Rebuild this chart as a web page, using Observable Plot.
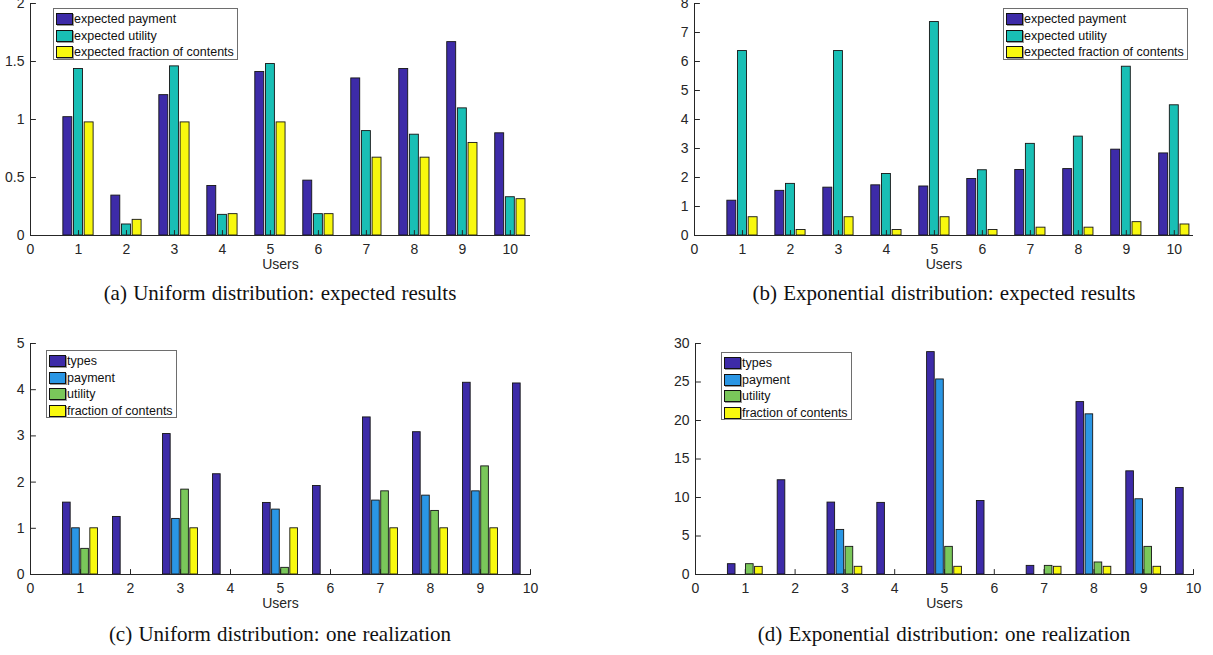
<!DOCTYPE html>
<html><head><meta charset="utf-8">
<script src="https://cdn.jsdelivr.net/npm/d3@7"></script>
<script src="https://cdn.jsdelivr.net/npm/@observablehq/plot@0.6"></script>
<style>
body{margin:0;background:#fff;}
#root{position:relative;width:1213px;height:655px;overflow:hidden;background:#fff;}
.panel{position:absolute;}
.legend{position:absolute;background:#fff;border:1px solid #6e6e6e;box-sizing:border-box;font-family:"Liberation Sans",Arial,sans-serif;font-size:12.5px;color:#111;padding-top:2px;}
.legend .row{display:flex;align-items:center;height:16.6px;white-space:nowrap;}
.legend .sw{width:17px;height:12px;box-sizing:border-box;border:1px solid #111;margin-left:2px;margin-right:1px;box-shadow:1px 1px 0 #9a9a9a;}
.caption{position:absolute;font-family:"Liberation Serif","Times New Roman",serif;font-size:21px;line-height:1;word-spacing:1px;white-space:nowrap;transform:translate(-50%,-50%);color:#111;}
</style>
</head><body>
<div id="root"></div>
<script>
const users = [1,2,3,4,5,6,7,8,9,10];
const xTicks = [0,1,2,3,4,5,6,7,8,9,10];

// (a) Uniform distribution: expected results
const aSeries = ["expected payment","expected utility","expected fraction of contents"];
const aPayment  = [1.02,0.344,1.21,0.427,1.41,0.473,1.354,1.435,1.667,0.881];
const aUtility  = [1.435,0.095,1.458,0.178,1.478,0.184,0.90,0.869,1.096,0.33];
const aFraction = [0.975,0.135,0.975,0.184,0.975,0.184,0.671,0.671,0.798,0.313];
const aYTicks = [0,0.5,1,1.5,2];

// (b) Exponential distribution: expected results
const bSeries = ["expected payment","expected utility","expected fraction of contents"];
const bPayment  = [1.20,1.54,1.65,1.73,1.69,1.95,2.26,2.29,2.96,2.83];
const bUtility  = [6.36,1.78,6.36,2.12,7.36,2.25,3.16,3.41,5.82,4.49];
const bFraction = [0.63,0.19,0.63,0.19,0.63,0.19,0.27,0.27,0.46,0.38];
const bYTicks = [0,1,2,3,4,5,6,7,8];

// (c) Uniform distribution: one realization
const cSeries = ["types","payment","utility","fraction of contents"];
const cTypes    = [1.556,1.246,3.04,2.17,1.549,1.916,3.40,3.08,4.15,4.135];
const cPayment  = [1.0,0,1.203,0,1.405,0,1.60,1.707,1.80,0];
const cUtility  = [0.555,0,1.837,0,0.144,0,1.80,1.376,2.34,0];
const cFraction = [1,0,1,0,1,0,1,1,1,0];
const cYTicks = [0,1,2,3,4,5];

// (d) Exponential distribution: one realization
const dSeries = ["types","payment","utility","fraction of contents"];
const dTypes    = [1.34,12.24,9.34,9.3,28.88,9.55,1.12,22.39,13.4,11.24];
const dPayment  = [0,0,5.79,0,25.33,0,0,20.8,9.77,0];
const dUtility  = [1.34,0,3.59,0,3.59,0,1.12,1.56,3.59,0];
const dFraction = [0.99,0,1,0,1,0,1,1,1,0];
const dYTicks = [0,5,10,15,20,25,30];

const colors3 = ["#3d2ba8","#19bfb5","#f8f80e"];
const colors4 = ["#3d2ba8","#2a96e4","#7ac75a","#f8f80e"];

const root = document.getElementById("root");
const tickShape = {draw(ctx, l) { ctx.moveTo(0, 0); ctx.lineTo(0, -l); }};
const axisColor = "#262626";
const font = "Liberation Sans, Arial, sans-serif";

function drawPanel(cfg) {
  const n = cfg.values.length;
  const step = n === 3 ? 0.222 : 0.182;
  const bw = step * 0.84;
  const marks = [];
  cfg.values.forEach((vals, i) => {
    const off = (i - (n - 1) / 2) * step;
    marks.push(Plot.rectY(users, {
      x1: u => u + off - bw / 2, x2: u => u + off + bw / 2,
      y1: 0, y2: (u, j) => vals[j],
      fill: cfg.colors[i], stroke: "#151515", strokeWidth: 0.9
    }));
  });
  marks.push(
    Plot.ruleY([0], {stroke: axisColor, strokeWidth: 1}),
    Plot.ruleX([0], {stroke: axisColor, strokeWidth: 1}),
    Plot.vector(xTicks, {x: d => d, y: 0, length: 5, rotate: 0, anchor: "start", shape: tickShape, stroke: axisColor, strokeWidth: 1}),
    Plot.vector(cfg.yTicks, {x: 0, y: d => d, length: 5, rotate: 90, anchor: "start", shape: tickShape, stroke: axisColor, strokeWidth: 1}),
    Plot.text(xTicks, {x: d => d, y: 0, dy: 14, text: d => String(d), fill: axisColor, fontSize: 14}),
    Plot.text(cfg.yTicks, {x: 0, y: d => d, dx: -6, textAnchor: "end", text: d => String(d), fill: axisColor, fontSize: 14}),
    Plot.text(["Users"], {frameAnchor: "bottom", dy: 33, text: d => d, fill: axisColor, fontSize: 14})
  );
  const svg = Plot.plot({
    width: cfg.width, height: cfg.height,
    marginLeft: cfg.ml, marginRight: cfg.mr, marginTop: cfg.mt, marginBottom: cfg.mb,
    x: {domain: [0, cfg.xmax], axis: null},
    y: {domain: [0, cfg.ymax], axis: null},
    style: {fontFamily: font, background: "transparent", overflow: "visible"},
    marks
  });
  const div = document.createElement("div");
  div.className = "panel";
  div.style.left = cfg.left + "px";
  div.style.top = cfg.top + "px";
  div.appendChild(svg);
  root.appendChild(div);

  const lg = document.createElement("div");
  lg.className = "legend";
  Object.assign(lg.style, {left: cfg.legend[0] + "px", top: cfg.legend[1] + "px", width: cfg.legend[2] + "px", height: cfg.legend[3] + "px"});
  cfg.series.forEach((s, i) => {
    const row = document.createElement("div");
    row.className = "row";
    const sw = document.createElement("span");
    sw.className = "sw";
    sw.style.background = cfg.colors[i];
    const t = document.createElement("span");
    t.textContent = s;
    row.appendChild(sw); row.appendChild(t);
    lg.appendChild(row);
  });
  root.appendChild(lg);

  const cap = document.createElement("div");
  cap.className = "caption";
  cap.style.left = cfg.capX + "px";
  cap.style.top = cfg.capY + "px";
  cap.textContent = cfg.caption;
  root.appendChild(cap);
}

drawPanel({left: 0, top: 0, width: 560, height: 280, ml: 30, mr: 30, mt: 3, mb: 45,
  xmax: 10.42, ymax: 2, yTicks: aYTicks, values: [aPayment, aUtility, aFraction], colors: colors3,
  series: aSeries, legend: [53, 8, 185, 52], capX: 280, capY: 293,
  caption: "(a) Uniform distribution: expected results"});
drawPanel({left: 660, top: 0, width: 553, height: 280, ml: 34, mr: 20, mt: 3, mb: 45,
  xmax: 10.4, ymax: 8, yTicks: bYTicks, values: [bPayment, bUtility, bFraction], colors: colors3,
  series: bSeries, legend: [1003, 8, 185, 52], capX: 944, capY: 293,
  caption: "(b) Exponential distribution: expected results"});
drawPanel({left: 0, top: 320, width: 560, height: 300, ml: 30, mr: 30, mt: 23, mb: 46,
  xmax: 10, ymax: 5, yTicks: cYTicks, values: [cTypes, cPayment, cUtility, cFraction], colors: colors4,
  series: cSeries, legend: [46, 350, 131, 68], capX: 280, capY: 634,
  caption: "(c) Uniform distribution: one realization"});
drawPanel({left: 660, top: 320, width: 553, height: 300, ml: 35, mr: 20, mt: 23, mb: 46,
  xmax: 10, ymax: 30, yTicks: dYTicks, values: [dTypes, dPayment, dUtility, dFraction], colors: colors4,
  series: dSeries, legend: [721, 352, 131, 68], capX: 944, capY: 634,
  caption: "(d) Exponential distribution: one realization"});
</script>
</body></html>
